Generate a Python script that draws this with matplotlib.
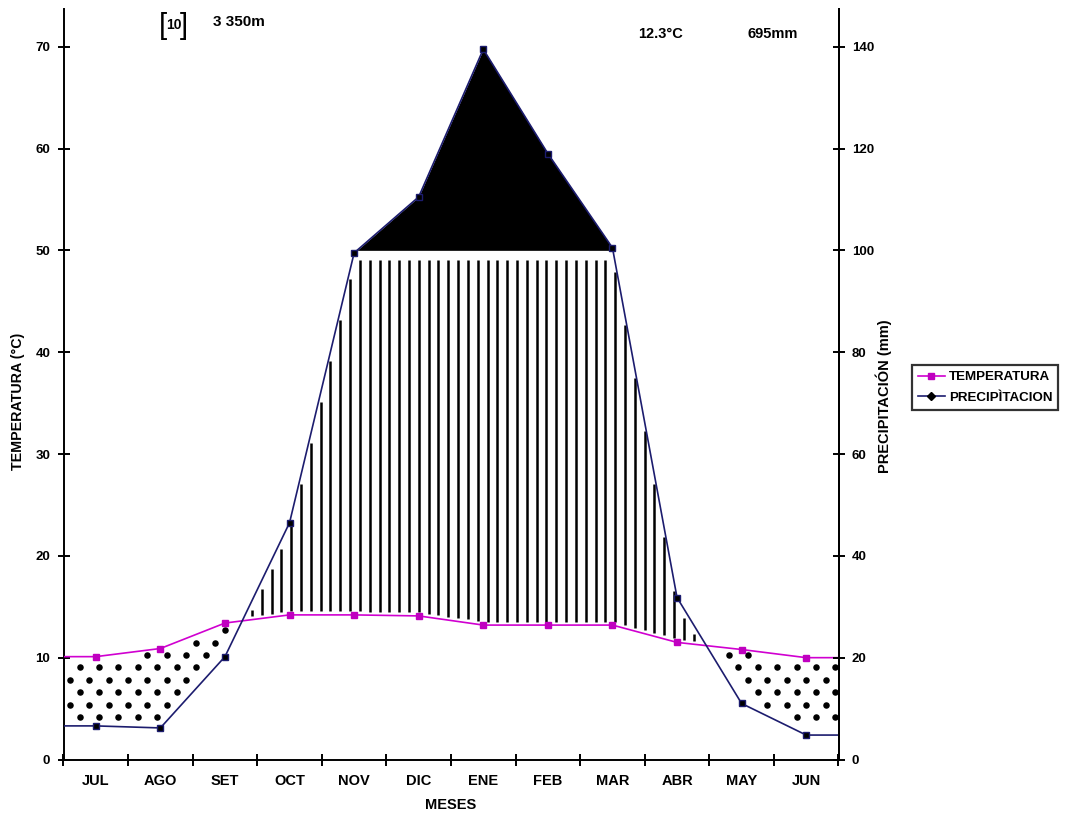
import numpy as np
import matplotlib
matplotlib.use("Agg")
import matplotlib.pyplot as plt
from matplotlib.lines import Line2D

plt.rcParams['font.family'] = ['Liberation Sans', 'DejaVu Sans']

# ---- data ----
months = ['JUL', 'AGO', 'SET', 'OCT', 'NOV', 'DIC', 'ENE', 'FEB', 'MAR', 'ABR', 'MAY', 'JUN']
temperatura = [10.1, 10.9, 13.4, 14.2, 14.2, 14.1, 13.2, 13.2, 13.2, 11.5, 10.8, 10.0]
precipitacion = [6.6, 6.2, 20.2, 46.5, 99.5, 110.5, 139.5, 119.0, 100.5, 31.8, 11.0, 4.8]
altitud_txt = '3 350m'
anios_txt = '10'
temp_media_txt = '12.3°C'
precip_total_txt = '695mm'

W, H = 1068, 813
fig = plt.figure(figsize=(W / 100, H / 100), dpi=100)
ax_l, ax_r, ax_b, ax_t = 63.5, 838.5, 759.5, 9
ax = fig.add_axes([ax_l / W, (H - ax_b) / H, (ax_r - ax_l) / W, (ax_b - ax_t) / H])

ymax = 73.7
ax.set_xlim(-0.5, 11.5)
ax.set_ylim(0, ymax)

x = np.arange(len(months))
t = np.array(temperatura)
p2 = np.array(precipitacion) / 2.0   # precipitation drawn on 2x scale

x_ext = np.r_[-0.5, x, 11.5]
t_ext = np.r_[t[0], t, t[-1]]
p_ext = np.r_[p2[0], p2, p2[-1]]

xf = np.linspace(-0.5, 11.5, 3000)
tf = np.interp(xf, x_ext, t_ext)
pf = np.interp(xf, x_ext, p_ext)

# perhumid period (black)
ax.fill_between(xf, 50, pf, where=pf > 50, color='black', lw=0, zorder=1)

# humid period: vertical lines
xv = np.arange(-0.5, 11.5, 0.152) + 0.03
tv = np.interp(xv, x_ext, t_ext)
pv = np.interp(xv, x_ext, p_ext)
top = np.minimum(pv, 50) - 0.9
bot = tv + 0.35
m = top > bot + 0.3
ax.vlines(xv[m], bot[m], top[m], color='black', lw=1.8, zorder=1)

# dry period: dots
gx, gy = [], []
dy = 1.22
dx = 0.30
rows = np.arange(0.5, 16, dy)
for i, yy in enumerate(rows):
    off = 0.0 if i % 2 == 0 else dx / 2
    xs = np.arange(-0.40 + off, 11.5, dx)
    ts = np.interp(xs, x_ext, t_ext)
    ps = np.interp(xs, x_ext, p_ext)
    sel = (yy > ps + 0.6) & (yy < ts - 0.45)
    gx.extend(xs[sel]); gy.extend(np.full(sel.sum(), yy))
ax.scatter(gx, gy, s=22, color='black', lw=0, zorder=2)

# lines
ax.plot(x_ext, t_ext, color='#d000d0', lw=1.2, zorder=3)
ax.plot(x, t, ls='none', marker='s', ms=5, color='#c000c0', zorder=4)
ax.plot(x_ext, p_ext, color='#1c1c6e', lw=1.2, zorder=3)
ax.plot(x, p2, ls='none', marker='s', ms=4.5, mfc='black', mec='#1c1c6e', zorder=4)

# axes styling
ax.spines['top'].set_visible(False)
for s in ['left', 'right', 'bottom']:
    ax.spines[s].set_linewidth(1.4)
ax.set_yticks(np.arange(0, 71, 10))
ax.set_yticklabels([str(v) for v in range(0, 71, 10)], fontsize=9.5, fontweight='bold')
ax.tick_params(axis='y', direction='inout', length=9, width=1.4, pad=5)
ax.set_xticks(np.arange(-0.5, 11.6, 1))
ax.set_xticklabels([])
ax.tick_params(axis='x', direction='inout', length=9, width=1.4)
for i, mname in enumerate(months):
    ax.text(i, -1.45, mname, ha='center', va='top', fontsize=10.5, fontweight='bold')
ax.text(5.5, -3.75, 'MESES', ha='center', va='top', fontsize=10.5, fontweight='bold')

ax2 = ax.twinx()
ax2.set_ylim(0, ymax * 2)
ax2.set_yticks(np.arange(0, 141, 20))
ax2.set_yticklabels([str(v) for v in range(0, 141, 20)], fontsize=9.5, fontweight='bold')
ax2.tick_params(axis='y', direction='inout', length=9, width=1.4, pad=5)
for s in ['top', 'left', 'bottom']:
    ax2.spines[s].set_visible(False)
ax2.spines['right'].set_linewidth(1.4)

fig.text(18 / W, 1 - 401 / H, 'TEMPERATURA (°C)', rotation=90, ha='center', va='center',
         fontsize=10.3, fontweight='bold')
fig.text(884 / W, 1 - 396 / H, 'PRECIPITACIÓN (mm)', rotation=90, ha='center', va='center',
         fontsize=10.5, fontweight='bold')

# header texts
fig.text(159 / W, 1 - 26 / H, '[', fontsize=21, ha='left', va='center')
fig.text(173.5 / W, 1 - 25 / H, anios_txt, fontsize=10, fontweight='bold', ha='center', va='center')
fig.text(188 / W, 1 - 26 / H, ']', fontsize=21, ha='right', va='center')
fig.text(213 / W, 1 - 22 / H, altitud_txt, fontsize=11, fontweight='bold', ha='left', va='center')
fig.text(638 / W, 1 - 34 / H, temp_media_txt, fontsize=10.5, fontweight='bold', ha='left', va='center')
fig.text(747 / W, 1 - 34 / H, precip_total_txt, fontsize=10.5, fontweight='bold', ha='left', va='center')

# legend
handles = [
    Line2D([], [], color='#d000d0', lw=1.2, marker='s', ms=5, mfc='#c000c0', mec='#c000c0'),
    Line2D([], [], color='#1c1c6e', lw=1.2, marker='D', ms=4, mfc='black', mec='black'),
]
leg = fig.legend(handles, ['TEMPERATURA', 'PRECIPÌTACION'], loc='upper left',
                 bbox_to_anchor=(912 / W, 1 - 365 / H), frameon=True, fancybox=False,
                 prop={'size': 9.6, 'weight': 'bold'}, handlelength=2.0, handletextpad=0.3,
                 borderpad=0.45, labelspacing=0.6, borderaxespad=0)
leg.get_frame().set_edgecolor('black')
leg.get_frame().set_linewidth(1.6)

fig.savefig('out.png', dpi=100)
